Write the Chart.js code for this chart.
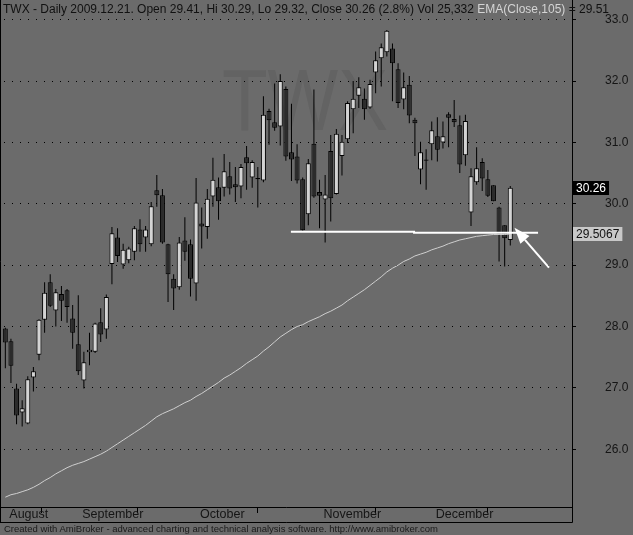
<!DOCTYPE html>
<html>
<head>
<meta charset="utf-8">
<script src="https://cdn.jsdelivr.net/npm/chart.js@4.4.1/dist/chart.umd.min.js"></script>
<style>
  html, body { margin: 0; padding: 0; background: #6b6b6b; }
  #wrap { position: relative; width: 633px; height: 535px; overflow: hidden; }
  #chart { position: absolute; left: 0; top: 0; }
  .txt { position: absolute; font-family: "Liberation Sans", Arial, sans-serif; white-space: nowrap; color: #111; }
  #title { left: 3px; top: 2px; font-size: 12px; line-height: 14px; }
  #title .ema { color: #d4d4d4; }
  #footer { left: 4px; top: 523px; font-size: 9.5px; line-height: 11px; color: #1a1a1a; }
</style>
</head>
<body>
<div id="wrap">
  <canvas id="chart" width="633" height="535"></canvas>
  <div id="title" class="txt">TWX - Daily 2009.12.21. Open 29.41, Hi 30.29, Lo 29.32, Close 30.26 (2.8%) Vol 25,332 <span class="ema">EMA(Close,105)</span> = 29.51</div>
  <div id="footer" class="txt">Created with AmiBroker - advanced charting and technical analysis software. http://www.amibroker.com</div>
</div>
<script>
// daily bars, 2009-08-13 .. 2009-12-21
const opens = [
  27.97, 27.76, 26.99, 26.60, 26.42, 27.17, 27.54, 28.11, 28.72, 28.26,
  28.53, 28.59, 28.13, 27.71, 27.12, 27.58, 27.59, 28.07, 27.95, 29.02,
  29.45, 29.01, 29.08, 29.22, 29.58, 29.45, 29.34, 30.22, 30.14, 29.34,
  28.78, 28.64, 29.40, 29.34, 28.70, 29.68, 29.62, 30.12, 30.27, 30.26,
  30.45, 30.32, 30.28, 30.76, 30.43, 30.40, 30.38, 31.51, 31.33, 31.26,
  31.87, 30.84, 30.77, 30.40, 29.83, 30.98, 30.19, 30.07, 30.86, 30.16,
  30.78, 31.05, 31.54, 31.76, 31.71, 31.57, 32.14, 32.37, 32.47, 32.53,
  32.19, 31.70, 31.94, 31.37, 30.56, 30.70, 30.97, 31.10, 31.00, 31.46,
  31.38, 31.28, 30.79, 29.86, 30.35, 30.68, 30.40, 30.30, 29.94, 29.65,
  29.41
];
const highs = [
  27.98, 27.80, 27.07, 26.80, 27.19, 27.34, 28.12, 28.72, 28.85, 28.61,
  28.66, 28.61, 28.35, 28.51, 27.59, 27.90, 28.06, 28.30, 28.52, 29.62,
  29.60, 29.35, 29.30, 29.64, 29.75, 29.64, 30.03, 30.47, 30.24, 29.35,
  28.85, 29.46, 29.78, 29.42, 30.42, 29.94, 30.24, 30.75, 30.43, 30.81,
  30.68, 30.60, 30.65, 30.94, 30.71, 30.60, 31.75, 31.55, 31.96, 32.11,
  31.91, 31.63, 30.97, 30.43, 30.73, 31.86, 30.39, 30.47, 31.12, 31.22,
  31.12, 31.67, 32.00, 32.06, 31.88, 32.02, 32.48, 32.61, 32.83, 32.61,
  32.29, 32.14, 32.08, 31.40, 31.01, 30.89, 31.34, 31.41, 31.34, 31.49,
  31.69, 31.44, 31.45, 30.58, 30.92, 30.74, 30.55, 30.30, 29.95, 29.65,
  30.29
];
const lows = [
  27.32, 27.08, 26.41, 26.37, 26.41, 26.94, 27.45, 27.90, 28.32, 28.00,
  28.09, 28.06, 27.64, 27.21, 26.99, 27.37, 27.57, 27.75, 27.80, 28.69,
  29.05, 28.94, 29.03, 29.08, 29.22, 29.22, 29.31, 29.95, 29.35, 28.40,
  28.27, 28.60, 29.07, 28.49, 28.42, 29.27, 29.43, 29.95, 29.74, 30.12,
  30.15, 30.03, 30.09, 30.23, 30.26, 29.94, 30.35, 30.96, 31.19, 30.95,
  30.70, 30.37, 30.33, 29.56, 29.65, 30.10, 29.60, 29.37, 29.71, 30.15,
  30.46, 30.99, 31.15, 31.56, 31.37, 31.55, 31.80, 31.91, 32.40, 31.67,
  31.56, 31.54, 31.31, 30.78, 30.32, 30.23, 30.71, 30.69, 30.90, 30.92,
  31.25, 30.50, 30.62, 29.64, 30.31, 30.21, 30.11, 30.04, 29.06, 28.98,
  29.32
];
const closes = [
  27.74, 27.36, 26.55, 26.67, 27.14, 27.27, 28.11, 28.55, 28.34, 28.56,
  28.42, 28.32, 27.90, 27.27, 27.42, 27.62, 28.05, 27.87, 28.48, 29.52,
  29.15, 29.25, 29.27, 29.60, 29.34, 29.58, 29.96, 30.14, 29.37, 28.85,
  28.62, 29.37, 29.22, 28.78, 30.02, 29.63, 30.08, 30.39, 30.04, 30.53,
  30.25, 30.27, 30.60, 30.66, 30.68, 30.42, 31.45, 31.36, 31.24, 32.00,
  30.77, 30.72, 30.38, 29.57, 30.66, 30.12, 30.13, 30.15, 30.09, 31.14,
  31.01, 31.64, 31.71, 31.90, 31.54, 31.95, 32.34, 32.55, 32.82, 32.29,
  31.64, 31.90, 31.44, 31.31, 30.84, 30.72, 31.20, 30.88, 31.10, 31.40,
  31.33, 30.64, 31.35, 30.45, 30.58, 30.41, 30.13, 30.04, 29.49, 29.44,
  30.26
];
const ema105 = [
  25.22, 25.26, 25.28, 25.31, 25.34, 25.38, 25.43, 25.49, 25.54, 25.60,
  25.65, 25.70, 25.74, 25.77, 25.80, 25.84, 25.88, 25.92, 25.97, 26.03,
  26.09, 26.15, 26.21, 26.27, 26.33, 26.39, 26.46, 26.53, 26.58, 26.62,
  26.66, 26.71, 26.76, 26.80, 26.86, 26.91, 26.97, 27.03, 27.09, 27.16,
  27.21, 27.27, 27.33, 27.40, 27.46, 27.52, 27.60, 27.67, 27.75, 27.83,
  27.89, 27.95, 28.00, 28.03, 28.08, 28.12, 28.16, 28.21, 28.25, 28.30,
  28.35, 28.42, 28.48, 28.54, 28.60, 28.67, 28.74, 28.81, 28.89, 28.95,
  29.00, 29.06, 29.10, 29.15, 29.18, 29.21, 29.25, 29.28, 29.31, 29.35,
  29.38, 29.41, 29.43, 29.45, 29.47, 29.48, 29.49, 29.50, 29.50, 29.50,
  29.5067
];
const monthLabels = ["August", "September", "October", "November", "December"];
const monthStart = [0, 13, 34, 56, 76];
const priceTicks = [26, 27, 28, 29, 30, 31, 32, 33];

// hand drawn study: support line and arrow (bar index, price)
const trendX = [50.9, 72.85, 72.85, 94.95];
const trendY = [29.544, 29.544, 29.528, 29.528];
const arrowFrom = [96.9, 28.96];
const arrowTo = [90.75, 29.61];

const FONT = "'Liberation Sans', Arial, sans-serif";
const UP = "#d4d4d4";
const DOWN = "#2b2b2b";

const idx = closes.map((c, i) => i);
const wickData = idx.map(i => ({ x: i, y: [lows[i], highs[i]] }));
const bodyData = idx.map(i => ({ x: i, y: [opens[i], closes[i]] }));
const bodyColors = idx.map(i => closes[i] >= opens[i] ? UP : DOWN);
const emaData = idx.map(i => ({ x: i, y: ema105[i] }));
const trendData = trendX.map((v, i) => ({ x: v, y: trendY[i] }));

function noPad(s) {
    s.paddingTop = 0;
    s.paddingBottom = 0;
    s.paddingLeft = 0;
    s.paddingRight = 0;
}

const decor = {
    id: "decor",
    beforeDraw(chart) {
        const ctx = chart.ctx;
        ctx.save();
        ctx.fillStyle = "#636363";
        ctx.font = "88px " + FONT;
        ctx.textAlign = "center";
        ctx.textBaseline = "alphabetic";
        ctx.translate(305, 130);
        ctx.scale(0.85, 1);
        ctx.fillText("TWX", 0, 0);
        ctx.restore();
    },
    afterDraw(chart) {
        const { ctx, chartArea: a, scales: { x, y } } = chart;
        const r = Math.round(a.right) + 0.5;
        const b = Math.round(a.bottom) + 0.5;

        ctx.save();
        ctx.strokeStyle = "#000";
        ctx.lineWidth = 1;
        ctx.beginPath();
        ctx.moveTo(0.5, 0); ctx.lineTo(0.5, b + 15);
        ctx.moveTo(r, 0); ctx.lineTo(r, b + 15);
        ctx.moveTo(0, b); ctx.lineTo(r, b);
        ctx.moveTo(0, b + 15); ctx.lineTo(r, b + 15);
        ctx.stroke();

        // arrow
        const x0 = x.getPixelForValue(arrowFrom[0]), y0 = y.getPixelForValue(arrowFrom[1]);
        const x1 = x.getPixelForValue(arrowTo[0]), y1 = y.getPixelForValue(arrowTo[1]);
        const len = Math.hypot(x1 - x0, y1 - y0);
        const ux = (x1 - x0) / len, uy = (y1 - y0) / len;
        const hx = x1 - ux * 16, hy = y1 - uy * 16;
        ctx.strokeStyle = "#fff";
        ctx.fillStyle = "#fff";
        ctx.lineWidth = 2;
        ctx.beginPath();
        ctx.moveTo(x0, y0); ctx.lineTo(hx, hy);
        ctx.stroke();
        ctx.beginPath();
        ctx.moveTo(x1, y1);
        ctx.lineTo(hx - uy * 6, hy + ux * 6);
        ctx.lineTo(hx + uy * 6, hy - ux * 6);
        ctx.closePath();
        ctx.fill();

        // value labels on the price axis
        ctx.font = "12px " + FONT;
        ctx.textAlign = "left";
        ctx.textBaseline = "middle";
        const last = closes.length - 1;
        const labels = [
            [closes[last].toFixed(2), "#000", "#fff"],
            [ema105[last].toFixed(4), "#c8c8c8", "#111"]
        ];
        const vals = [closes[last], ema105[last]];
        labels.forEach((l, i) => {
            const py = Math.round(y.getPixelForValue(vals[i]));
            const w = ctx.measureText(l[0]).width;
            ctx.fillStyle = l[1];
            ctx.fillRect(r + 0.5, py - 7, w + 6, 14);
            ctx.fillStyle = l[2];
            ctx.fillText(l[0], r + 3.5, py + 0.5);
        });
        ctx.restore();
    }
};

new Chart(document.getElementById("chart"), {
    type: "bar",
    data: {
        datasets: [
            {
                data: wickData,
                backgroundColor: "#000",
                barThickness: 1,
                grouped: false,
                inflateAmount: 0,
                order: 4
            },
            {
                data: bodyData,
                backgroundColor: bodyColors,
                borderColor: "#000",
                borderWidth: 1,
                borderSkipped: false,
                barThickness: 5,
                grouped: false,
                inflateAmount: 0,
                order: 3
            },
            {
                type: "line",
                data: emaData,
                borderColor: "#cfcfcf",
                borderWidth: 1,
                pointRadius: 0,
                tension: 0,
                order: 2
            },
            {
                type: "line",
                data: trendData,
                borderColor: "#fff",
                borderWidth: 2,
                pointRadius: 0,
                tension: 0,
                order: 1
            }
        ]
    },
    options: {
        responsive: false,
        animation: false,
        devicePixelRatio: 1,
        layout: { padding: { left: 0, right: 0, top: 0, bottom: 13 } },
        plugins: { legend: { display: false }, tooltip: { enabled: false } },
        scales: {
            x: {
                type: "linear",
                min: -0.95,
                max: 101,
                offset: false,
                afterBuildTicks: s => { s.ticks = monthStart.map(v => ({ value: v })); },
                afterFit: s => { s.height = 15; noPad(s); },
                grid: {
                    drawOnChartArea: false,
                    tickLength: 6,
                    color: "rgba(0,0,0,0)",
                    tickColor: c => c.index === 0 ? "rgba(0,0,0,0)" : "#000"
                },
                border: { display: false },
                ticks: {
                    autoSkip: false,
                    maxRotation: 0,
                    align: "start",
                    labelOffset: 4,
                    padding: -6,
                    color: "#151515",
                    font: { family: FONT, size: 12.5 },
                    callback: (v, i) => monthLabels[i]
                }
            },
            y: {
                position: "right",
                min: 25.06,
                max: 33.32,
                afterBuildTicks: s => { s.ticks = priceTicks.map(v => ({ value: v })); },
                afterFit: s => { s.width = 61; noPad(s); },
                grid: { color: "#000", lineWidth: 1, tickLength: 4, tickColor: "#000", tickBorderDash: [] },
                border: { display: false, dash: [1, 7], dashOffset: 4 },
                ticks: {
                    padding: 29,
                    color: "#151515",
                    font: { family: FONT, size: 12 },
                    callback: v => v.toFixed(1)
                }
            }
        }
    },
    plugins: [decor]
});
</script>
</body>
</html>
